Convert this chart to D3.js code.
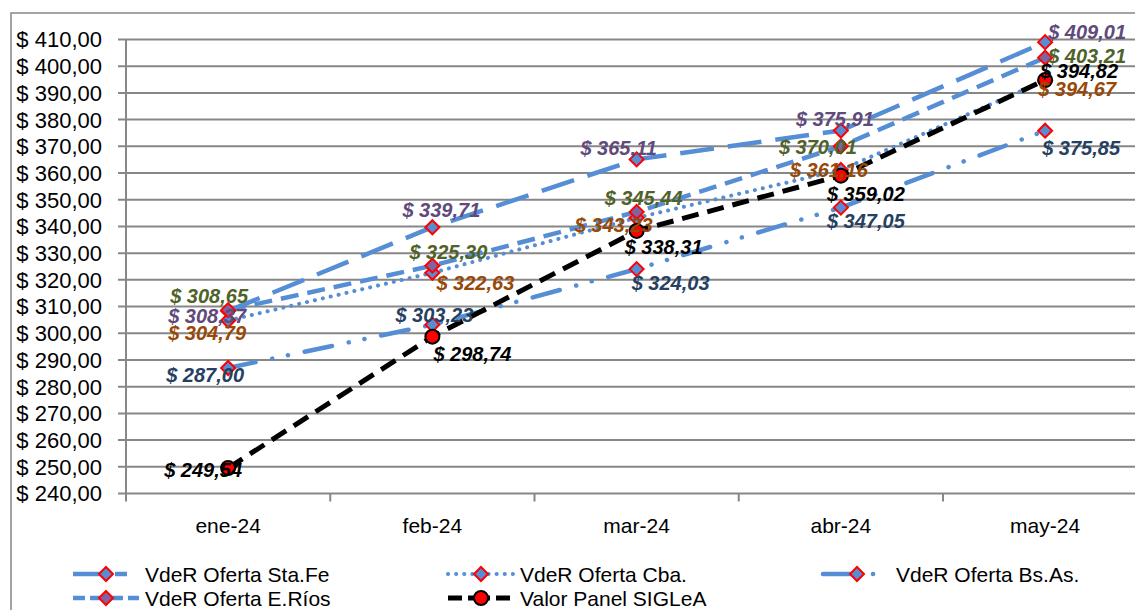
<!DOCTYPE html>
<html>
<head>
<meta charset="utf-8">
<script src="https://cdn.jsdelivr.net/npm/d3@7"></script>
<style>
  body { margin: 0; background: #fff; }
  svg { display: block; font-family: "Liberation Sans", Arial, sans-serif; }
</style>
</head>
<body>
<svg id="chart" width="1135" height="610"></svg>
<script>
// data
const months = ["ene-24", "feb-24", "mar-24", "abr-24", "may-24"];
const staFe  = [308.37, 339.71, 365.11, 375.91, 409.01];
const cba    = [304.79, 322.63, 343.23, 361.16, 394.67];
const bsAs   = [287.00, 303.23, 324.03, 347.05, 375.85];
const eRios  = [308.65, 325.30, 345.44, 370.01, 403.21];
const siglea = [249.54, 298.74, 338.31, 359.02, 394.82];
const yTicks = [240, 250, 260, 270, 280, 290, 300, 310, 320, 330, 340, 350, 360, 370, 380, 390, 400, 410];

// series setup (style only)
const series = [
  { key: "staFe", name: "VdeR Oferta Sta.Fe", values: staFe, dash: "34,14", width: 4.5, labelColor: "#604A7B", marker: "diamond", fill: "#558ED5" },
  { key: "cba", name: "VdeR Oferta Cba.", values: cba, dash: "0.1,8", width: 4, cap: "round", labelColor: "#984807", marker: "diamond", fill: "#558ED5" },
  { key: "bsAs", name: "VdeR Oferta Bs.As.", values: bsAs, dash: "28,17,0.1,16,0.1,17", width: 4.5, cap: "round", labelColor: "#254061", marker: "diamond", fill: "#558ED5" },
  { key: "eRios", name: "VdeR Oferta E.Ríos", values: eRios, dash: "18,9", width: 4.5, labelColor: "#4F6228", marker: "diamond", fill: "#8064A2" },
  { key: "siglea", name: "Valor Panel SIGLeA", values: siglea, dash: "17,9", width: 5, labelColor: "#000000", marker: "circle", fill: "#FF0000", line: "#000000" }
];

// manual nudges of the data labels (dx, dy from the point), like excel's hand-moved labels
const labelNudge = {
  staFe:  [[-21, 5], [9, -17], [-18, -12], [-6, -12], [42, -10]],
  cba:    [[-21, 12], [43, 10], [-23, 7], [-12, 0], [32, 8]],
  bsAs:   [[-23, 7], [2, -10], [34, 14], [25, 13], [36, 17]],
  eRios:  [[-19, -14], [16, -14], [7, -14], [-23, 1], [42, -2]],
  siglea: [[-25, 2], [40, 17], [27, 16], [25, 18], [34, -9]]
};

const lineBlue = "#558ED5";
const gridGray = "#878787";

const svg = d3.select("#chart");

// outer chart border
svg.append("path")
  .attr("d", "M11,1000V13H1200")
  .attr("fill", "none")
  .attr("stroke", gridGray)
  .attr("stroke-width", 1.5);

const x = d3.scaleBand()
  .domain(months)
  .range([126, 126 + 5 * 204.25]);

const y = d3.scaleLinear()
  .domain([240, 410])
  .range([493.5, 39.5]);

// gridlines
svg.append("g")
  .selectAll("line")
  .data(yTicks)
  .enter()
  .append("line")
  .attr("x1", 118)
  .attr("x2", 1200)
  .attr("y1", d => y(d))
  .attr("y2", d => y(d))
  .attr("stroke", gridGray)
  .attr("stroke-width", 2);

// y tick labels
const fmt = d3.format(".2f");
svg.append("g")
  .selectAll("text")
  .data(yTicks)
  .enter()
  .append("text")
  .attr("x", 102)
  .attr("y", d => y(d))
  .attr("dy", "0.36em")
  .attr("text-anchor", "end")
  .style("font-size", "22px")
  .attr("fill", "#000")
  .text(d => "$ " + fmt(d).replace(".", ","));

// axis lines
svg.append("line")
  .attr("x1", 126).attr("x2", 126)
  .attr("y1", y(410)).attr("y2", y(240))
  .attr("stroke", gridGray).attr("stroke-width", 2);

// category boundary ticks
const bounds = months.map(m => x(m)).concat([x.range()[1]]);
svg.append("g")
  .selectAll("line")
  .data(bounds)
  .enter()
  .append("line")
  .attr("x1", d => d).attr("x2", d => d)
  .attr("y1", y(240)).attr("y2", y(240) + 8)
  .attr("stroke", gridGray).attr("stroke-width", 2);

// month labels
svg.append("g")
  .selectAll("text")
  .data(months)
  .enter()
  .append("text")
  .attr("x", d => x(d) + x.bandwidth() / 2)
  .attr("y", 533)
  .attr("text-anchor", "middle")
  .style("font-size", "21px")
  .text(d => d);

const cx = (d, i) => x(months[i]) + x.bandwidth() / 2;

const line = d3.line()
  .x((d, i) => cx(d, i))
  .y(d => y(d));

const diamond = "M0,-7L7,0L0,7L-7,0Z";

function drawMarker(sel, s) {
  if (s.marker === "circle") {
    sel.append("circle")
      .attr("r", 7)
      .attr("fill", s.fill)
      .attr("stroke", "#000")
      .attr("stroke-width", 2);
  } else {
    sel.append("path")
      .attr("d", diamond)
      .attr("fill", s.fill)
      .attr("stroke", "#FF0000")
      .attr("stroke-width", 2);
  }
}

// lines + markers, series by series
series.forEach(s => {
  svg.append("path")
    .datum(s.values)
    .attr("d", line)
    .attr("fill", "none")
    .attr("stroke", s.line || lineBlue)
    .attr("stroke-width", s.width)
    .attr("stroke-dasharray", s.dash)
    .attr("stroke-linecap", s.cap || "butt");

  svg.append("g")
    .selectAll("g")
    .data(s.values)
    .enter()
    .append("g")
    .attr("transform", (d, i) => "translate(" + cx(d, i) + "," + y(d) + ")")
    .each(function () { drawMarker(d3.select(this), s); });
});

// data labels on top
series.forEach(s => {
  svg.append("g")
    .selectAll("text")
    .data(s.values)
    .enter()
    .append("text")
    .attr("x", (d, i) => cx(d, i) + labelNudge[s.key][i][0])
    .attr("y", (d, i) => y(d) + labelNudge[s.key][i][1])
    .attr("dy", "0.36em")
    .attr("text-anchor", "middle")
    .style("font-size", "20px")
    .style("font-weight", "bold")
    .style("font-style", "italic")
    .attr("fill", s.labelColor)
    .text(d => "$ " + fmt(d).replace(".", ","));
});

// legend, 3 columns x 2 rows
const legendCols = [73, 448, 823];
const legendRows = [574, 598];
const legendOrder = ["staFe", "cba", "bsAs", "eRios", "siglea"];

legendOrder.forEach((k, idx) => {
  const s = series.find(d => d.key === k);
  const lx = legendCols[idx % 3];
  const ly = legendRows[Math.floor(idx / 3)];
  const g = svg.append("g").attr("transform", "translate(" + lx + "," + ly + ")");

  let sampleDash = s.dash;
  if (k === "staFe") sampleDash = "32,10,12,100";
  if (k === "bsAs") sampleDash = "38,12,0.1,100";
  if (k === "eRios") sampleDash = "12,5,16,5,12,5,12";
  if (k === "siglea") sampleDash = "14,6,22,6,14";

  g.append("line")
    .attr("x1", 0).attr("x2", 66)
    .attr("y1", 0).attr("y2", 0)
    .attr("stroke", s.line || lineBlue)
    .attr("stroke-width", s.width)
    .attr("stroke-dasharray", sampleDash)
    .attr("stroke-linecap", s.cap || "butt");

  const m = g.append("g").attr("transform", "translate(" + (k === "bsAs" ? 34 : 33) + ",0)");
  drawMarker(m, s);

  g.append("text")
    .attr("x", k === "bsAs" ? 73 : 72)
    .attr("y", 0)
    .attr("dy", "0.36em")
    .style("font-size", "21px")
    .text(s.name);
});
</script>
</body>
</html>
